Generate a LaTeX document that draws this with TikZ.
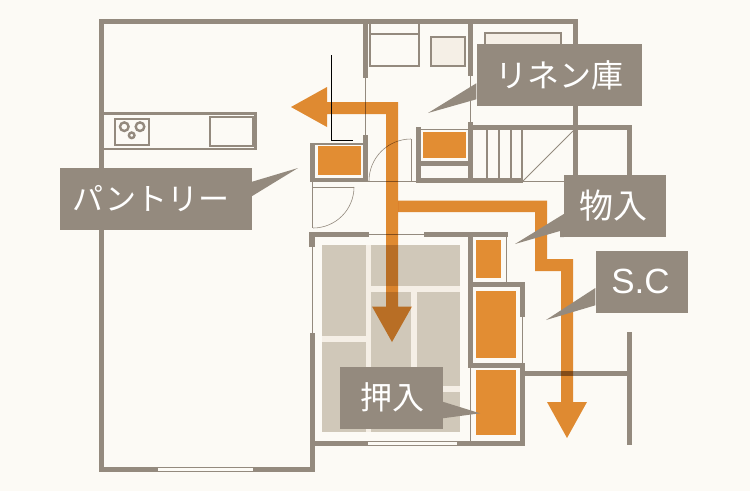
\documentclass[tikz,border=0pt]{standalone}
\usepackage{fontspec}
\setmainfont{Liberation Sans}
\newfontfamily\cjk{Noto Sans CJK JP}
\usetikzlibrary{positioning}
\definecolor{paper}{HTML}{FCFAF5}
\definecolor{wall}{HTML}{948A7E}
\definecolor{store}{HTML}{E28D33}
\definecolor{mat}{HTML}{D0C8B9}
\definecolor{matline}{HTML}{F5EFE6}
\tikzset{
  wallline/.style={fill=wall},
  thinline/.style={draw=wall, line width=0.8pt},
  fixture/.style={draw=wall, line width=2.4pt},
  storebox/.style={fill=store},
  route/.style={fill=store, blend mode=multiply},
  tag/.style={fill=wall, text=white, inner sep=0pt, font=\cjk\fontsize{32}{32}\selectfont},
  tagtail/.style={fill=wall}
}
\begin{document}
\begin{tikzpicture}[x=1pt, y=-1pt]

    % Page
    \fill[paper] (0,0) rectangle (750,491);
    \useasboundingbox (0,0) rectangle (750,491);

    % Tatami room
    \fill[mat] (322,245) rectangle (460,432);
    \fill[matline] (366,245) rectangle (371,432);
    \fill[matline] (371,286) rectangle (460,292);
    \fill[matline] (411,292) rectangle (417,400);
    \fill[matline] (322,336) rectangle (366,342);
    \fill[matline] (417,386) rectangle (460,392);

    % Outer walls
    \fill[wallline] (98.5,19) rectangle (578,24);
    \fill[wallline] (98.5,19) rectangle (103.5,472);
    \fill[wallline] (98.5,466.5) rectangle (315,472);
    \fill[paper] (158,467.7) rectangle (253,470.7);
    \fill[wallline] (573,19) rectangle (578,180);

    % Inner walls, upper part
    \fill[wallline] (363,19) rectangle (368,78);
    \fill[wallline] (363,135) rectangle (368,182);
    \fill[wallline] (468,19) rectangle (473,76);
    \fill[wallline] (468,122) rectangle (473,183);
    \fill[wallline] (468,125) rectangle (632,130);
    \fill[wallline] (627,125) rectangle (632,180);
    \fill[wallline] (416,127) rectangle (421,183);
    \fill[wallline] (416,178) rectangle (523,183);
    \fill[wallline] (421,161) rectangle (468,166);
    \draw[thinline] (365.5,78) -- (365.5,135);
    \draw[thinline] (470.5,76) -- (470.5,122);
    \draw[thinline] (421,129.5) -- (468,129.5);
    \draw[thinline] (368,181) -- (416,181);
    \draw[thinline] (523,181) -- (570,181);

    % Pantry
    \fill[wallline] (310,143) rectangle (315,182);
    \fill[wallline] (310,178) rectangle (368,182);
    \fill[wallline] (315,143) rectangle (363,145);
    \draw[thinline] (312,182) -- (312,228);
    \draw[thinline] (312,187) -- (354,187);
    \draw[thinline, line width=0.6pt] (354,187) arc[start angle=0, end angle=90, radius=41];

    % Door by the linen closet
    \draw[thinline] (411.5,139) -- (411.5,181);
    \draw[thinline, line width=0.6pt] (369,181) arc[start angle=180, end angle=270, radius=42];

    % Stairs
    \foreach \stepx in {487,499,511,522} {
        \draw[wall, line width=1.2pt] (\stepx,130) -- (\stepx,180);
    }
    \draw[wall, line width=1pt] (523,181) -- (573,131);

    % Tatami room walls
    \fill[wallline] (309,232) rectangle (369,237);
    \fill[wallline] (309,232) rectangle (315,247);
    \fill[wallline] (424,232) rectangle (508,237);
    \draw[thinline, line width=0.5pt] (369,234.5) -- (424,234.5);
    \draw[thinline] (312,247) -- (312,333);
    \fill[wallline] (309.5,333) rectangle (315,472);
    \fill[wallline] (315,441) rectangle (525,446);
    \fill[paper] (368,442) rectangle (457,445);
    \fill[wallline] (468,232) rectangle (473,368);
    \draw[thinline] (470.5,368) -- (470.5,443);

    % Closets on the right
    \draw[thinline] (506.5,237) -- (506.5,282);
    \fill[wallline] (468,282) rectangle (525,287);
    \fill[wallline] (520,282) rectangle (525,317);
    \draw[thinline] (522.5,317) -- (522.5,363);
    \fill[wallline] (468,363) rectangle (525,368);
    \fill[wallline] (520,363) rectangle (525,446);
    \fill[wallline] (525,371) rectangle (632,376);
    \fill[wallline] (627,332) rectangle (632,445);

    % Kitchen counter
    \draw[fixture] (103,113.3) -- (255.5,113.3) -- (255.5,149) -- (103,149);
    \draw[fixture] (115,119) rectangle (149,145);
    \draw[fixture] (124.3,126.7) circle (4.3);
    \draw[fixture] (140,126.7) circle (4.3);
    \draw[fixture] (131.7,135.3) circle (2.8);
    \draw[fixture] (210,117) rectangle (253,146);

    % Fixtures at the top
    \draw[fixture] (370,24) -- (370,66) -- (419,66) -- (419,24);
    \draw[fixture] (370,34) -- (419,34);
    \draw[fixture, fill=matline] (431,37) rectangle (465,66);
    \draw[fixture, fill=matline] (485,33) rectangle (561,60);

    % Stores
    \fill[storebox] (318,146) rectangle (361,175);
    \fill[storebox] (423,132) rectangle (466,158);
    \fill[storebox] (476,240) rectangle (501,278);
    \fill[storebox] (476,291) rectangle (516,358);
    \fill[storebox] (476,370) rectangle (516,435);

    % Arrows
    \fill[route] (291,107) -- (327,87) -- (327,102) -- (398,102) -- (398,306.5)
        -- (412,306.5) -- (392,342) -- (372,306.5) -- (386,306.5) -- (386,114)
        -- (327,114) -- (327,127) -- cycle;
    \fill[route] (398,200.5) -- (547,200.5) -- (547,259) -- (573,259) -- (573,402)
        -- (587,402) -- (567,438) -- (547,402) -- (561,402) -- (561,271)
        -- (535,271) -- (535,212) -- (398,212) -- cycle;

    % Black mark
    \draw[black, line width=1pt] (331.3,55) -- (331.3,140.7) -- (352.7,140.7);

    % Labels
    \node[tag, minimum width=192pt, minimum height=62pt, font=\cjk\fontsize{31}{31}\selectfont] (pantry) at (156,198.5) {パントリー\kern10pt};
    \fill[tagtail] (pantry.east |- 0,181.7) -- (298,168) -- (pantry.east |- 0,196) -- cycle;

    \node[tag, minimum width=165pt, minimum height=62pt] (linen) at (559,75) {リネン庫};
    \fill[tagtail] (linen.west |- 0,83.3) -- (428,113) -- (linen.west |- 0,99.3) -- cycle;

    \node[tag, minimum width=102pt, minimum height=62pt, font=\cjk\fontsize{34}{34}\selectfont] (storage) at (615,206) {物入\kern4pt};
    \fill[tagtail] (storage.west |- 0,214) -- (515,244) -- (560,231) -- (560,237) -- (storage.west |- 0,237) -- cycle;

    \node[tag, minimum width=92pt, minimum height=62pt, font=\fontsize{35}{35}\selectfont] (shoes) at (641.5,281.5) {S.C\kern2pt};
    \fill[tagtail] (shoes.west |- 0,288) -- (546,320) -- (shoes.west |- 0,305.3) -- cycle;

    \node[tag, minimum width=103pt, minimum height=62pt] (closet) at (391,397.5) {\kern3pt 押入};
    \fill[tagtail] (closet.east |- 0,401.7) -- (480,413.3) -- (closet.east |- 0,418.3) -- cycle;

\end{tikzpicture}
\end{document}
